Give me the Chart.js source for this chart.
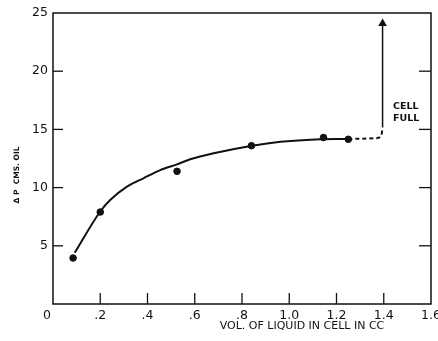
<!DOCTYPE html>
<html>
<head>
<meta charset="utf-8">
<script src="https://cdn.jsdelivr.net/npm/chart.js@4/dist/chart.umd.min.js"></script>
<style>
  html, body { margin: 0; padding: 0; background: #fff; }
  #wrap { width: 438px; height: 341px; position: relative; }
</style>
</head>
<body>
<div id="wrap"><canvas id="myChart"></canvas></div>
<script>
// measured points
const volX = [0.085, 0.2, 0.525, 0.84, 1.145, 1.25];
const dpY = [3.95, 7.9, 11.4, 13.6, 14.3, 14.15];

// smooth curve drawn by hand through the points
const curveX = [0.092, 0.2, 0.242, 0.313, 0.383, 0.454, 0.525, 0.581, 0.68, 0.843, 0.963, 1.09, 1.25];
const curveY = [4.4, 7.95, 8.93, 10.08, 10.8, 11.5, 12.0, 12.43, 12.95, 13.6, 13.94, 14.12, 14.18];

// dashed part after the last point, then the arrow up to "cell full"
const dashX = [1.25, 1.37, 1.39, 1.395];
const dashY = [14.18, 14.25, 14.5, 15.2];
const arrowX = [1.395, 1.395];
const arrowY = [15.2, 24.1];

const xTicks = [0, 0.2, 0.4, 0.6, 0.8, 1.0, 1.2, 1.4, 1.6];
const xTickLabels = ['0', '.2', '.4', '.6', '.8', '1.0', '1.2', '1.4', '1.6'];
const yTicks = [5, 10, 15, 20, 25];
const yTickLabels = ['5', '10', '15', '20', '25'];

const xTitle = 'VOL. OF LIQUID IN CELL IN CC';
const yTitle = 'Δ P  CMS. OIL';
const noteLines = ['CELL', 'FULL'];

function pairs(xs, ys) {
  return xs.map((x, i) => ({ x: x, y: ys[i] }));
}

const ink = '#111';

const paperPlugin = {
  id: 'paper',
  afterDraw(chart) {
    const c = chart.ctx, a = chart.chartArea;
    const sx = chart.scales.x, sy = chart.scales.y;
    c.save();
    c.strokeStyle = ink;
    c.lineWidth = 1.5;
    c.strokeRect(a.left, a.top, a.right - a.left, a.bottom - a.top);

    // inward ticks
    c.lineWidth = 1.3;
    xTicks.forEach((v, i) => {
      if (i == 0 || i == xTicks.length - 1) return;
      const px = sx.getPixelForValue(v);
      c.beginPath(); c.moveTo(px, a.bottom); c.lineTo(px, a.bottom - 11); c.stroke();
    });
    yTicks.forEach(v => {
      if (v == 25) return;
      const py = sy.getPixelForValue(v);
      c.beginPath(); c.moveTo(a.left, py); c.lineTo(a.left + 10, py); c.stroke();
      c.beginPath(); c.moveTo(a.right, py); c.lineTo(a.right - 12, py); c.stroke();
    });

    // tick labels
    c.fillStyle = ink;
    c.font = '12.5px "DejaVu Sans"';
    c.textBaseline = 'middle';
    c.textAlign = 'center';
    xTicks.forEach((v, i) => {
      let px = sx.getPixelForValue(v);
      if (i == 0) px -= 6;
      c.fillText(xTickLabels[i], px, a.bottom + 12);
    });
    c.textAlign = 'right';
    yTicks.forEach((v, i) => {
      c.fillText(yTickLabels[i], a.left - 5, sy.getPixelForValue(v));
    });

    // axis titles
    c.font = '11px "DejaVu Sans"';
    c.textAlign = 'center';
    c.fillText(xTitle, 302, 326);
    c.save();
    c.translate(17, 175);
    c.rotate(-Math.PI / 2);
    c.font = 'bold 7.5px "DejaVu Sans"';
    c.fillText(yTitle, 0, 0);
    c.restore();

    // note
    c.font = 'bold 9.5px "DejaVu Sans"';
    c.textAlign = 'left';
    c.fillText(noteLines[0], 393, 107);
    c.fillText(noteLines[1], 393, 119);
    c.restore();
  }
};

const ctx = document.getElementById('myChart');

var chart = new Chart(ctx, {
  type: 'scatter',
  data: {
    datasets: [{
        label: 'points',
        data: pairs(volX, dpY),
        backgroundColor: ink,
        borderColor: ink,
        pointRadius: 3.3,
        showLine: false,
    }, {
        label: 'curve',
        data: pairs(curveX, curveY),
        borderColor: ink,
        borderWidth: 2,
        pointRadius: 0,
        showLine: true,
        cubicInterpolationMode: 'monotone',
    }, {
        label: 'dash',
        data: pairs(dashX, dashY),
        borderColor: ink,
        borderWidth: 2,
        borderDash: [4, 3],
        pointRadius: 0,
        showLine: true,
        cubicInterpolationMode: 'monotone',
    }, {
        label: 'arrow',
        data: pairs(arrowX, arrowY),
        borderColor: ink,
        backgroundColor: ink,
        borderWidth: 1.5,
        pointStyle: 'triangle',
        pointRadius: [0, 3.5],
        showLine: true,
    }]
  },
  options: {
    responsive: true,
    maintainAspectRatio: false,
    animation: false,
    layout: { padding: { left: 53, top: 13, right: 7, bottom: 37 } },
    plugins: {
      legend: { display: false },
      tooltip: { enabled: false },
    },
    scales: {
      x: {
        type: 'linear', min: 0, max: 1.6,
        ticks: { display: false },
        grid: { display: false, drawTicks: false },
        border: { display: false },
      },
      y: {
        type: 'linear', min: 0, max: 25,
        ticks: { display: false },
        grid: { display: false, drawTicks: false },
        border: { display: false },
      }
    }
  },
  plugins: [paperPlugin]
});
</script>
</body>
</html>
